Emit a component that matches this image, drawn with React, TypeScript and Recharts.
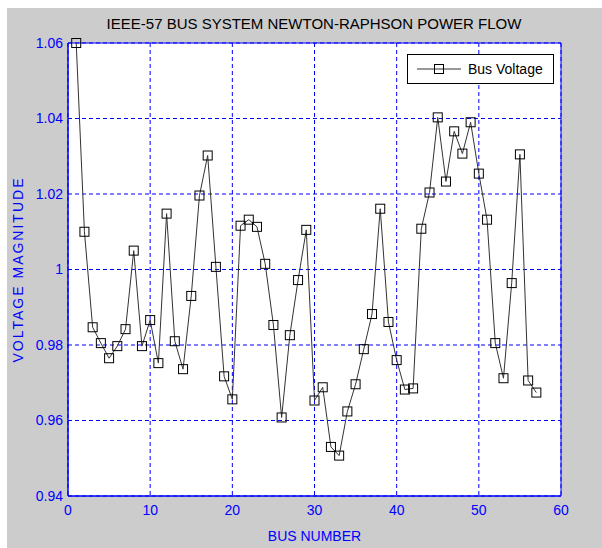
import React from 'react';
import {
  LineChart,
  Line,
  XAxis,
  YAxis,
  CartesianGrid,
  ReferenceArea,
  Label,
} from 'recharts';

const busNumbers = [
  1, 2, 3, 4, 5, 6, 7, 8, 9, 10, 11, 12, 13, 14, 15, 16, 17, 18, 19, 20,
  21, 22, 23, 24, 25, 26, 27, 28, 29, 30, 31, 32, 33, 34, 35, 36, 37, 38, 39, 40,
  41, 42, 43, 44, 45, 46, 47, 48, 49, 50, 51, 52, 53, 54, 55, 56, 57,
];

const busVoltage = [
  1.06, 1.01, 0.9847, 0.9805, 0.9765, 0.9797, 0.9842, 1.005, 0.9797, 0.9866,
  0.9752, 1.0148, 0.981, 0.9736, 0.993, 1.0196, 1.0302, 1.0007, 0.9717, 0.9656,
  1.0116, 1.0132, 1.0113, 1.0015, 0.9853, 0.9608, 0.9826, 0.9972, 1.0105, 0.9653,
  0.9688, 0.953, 0.9507, 0.9624, 0.9696, 0.9789, 0.9882, 1.0161, 0.9861, 0.976,
  0.9682, 0.9685, 1.0108, 1.0204, 1.0403, 1.0233, 1.0366, 1.0307, 1.039, 1.0254,
  1.0132, 0.9805, 0.9712, 0.9964, 1.0305, 0.9706, 0.9674,
];

const xTicks = [0, 10, 20, 30, 40, 50, 60];
const yTicks = [0.94, 0.96, 0.98, 1, 1.02, 1.04, 1.06];

const data = busNumbers.map((bus, i) => ({ bus, voltage: busVoltage[i] }));

const BLUE = '#0000ff';
const FONT = 'Arial, "Liberation Sans", Helvetica, sans-serif';

const SquareDot = (props: any) => {
  const { cx, cy, index } = props;
  if (cx == null || cy == null) return null;
  return (
    <rect
      key={`dot-${index}`}
      x={cx - 4.5}
      y={cy - 4.5}
      width={9}
      height={9}
      fill="none"
      stroke="#000"
      strokeWidth={1}
    />
  );
};

// legend drawn as an overlay so it does not eat plot space
const LegendBox = () => (
  <div
    style={{
      position: 'absolute',
      left: 400,
      top: 46,
      width: 145,
      height: 28,
      border: '1px solid #000',
      background: '#fff',
      display: 'flex',
      alignItems: 'center',
      fontFamily: FONT,
      fontSize: 14,
      color: '#000',
    }}
  >
    <svg width={60} height={28}>
      <line x1={9} y1={14} x2={53} y2={14} stroke="#333" strokeWidth={1} />
      <rect x={26.5} y={9.5} width={9} height={9} fill="none" stroke="#000" />
    </svg>
    <span>Bus Voltage</span>
  </div>
);

export default function App() {
  return (
    <div
      style={{
        position: 'absolute',
        left: 7,
        top: 8,
        width: 595,
        height: 540,
        background: '#cccccc',
        fontFamily: FONT,
      }}
    >
      <div
        style={{
          position: 'absolute',
          left: 0,
          top: 8,
          width: 614,
          textAlign: 'center',
          fontSize: 15,
          lineHeight: '15px',
          color: '#000',
        }}
      >
        IEEE-57 BUS SYSTEM NEWTON-RAPHSON POWER FLOW
      </div>
      <LineChart
        width={595}
        height={540}
        data={data}
        margin={{ top: 35, right: 41, left: 0, bottom: 0 }}
      >
        <CartesianGrid
          fill="#ffffff"
          stroke={BLUE}
          strokeDasharray="4 3"
          strokeWidth={1}
          horizontal={{ stroke: BLUE, strokeDasharray: '4 3' } as any}
          vertical={{ stroke: BLUE, strokeDasharray: '4 3' } as any}
        />
        <XAxis
          type="number"
          dataKey="bus"
          domain={[0, 60]}
          ticks={xTicks}
          height={52}
          tickSize={0}
          tickMargin={9}
          tickLine={false}
          axisLine={{ stroke: BLUE }}
          tick={{ fill: BLUE, fontSize: 14, fontFamily: FONT }}
        >
          <Label
            value="BUS NUMBER"
            position="insideBottom"
            offset={7}
            fill={BLUE}
            fontSize={14}
            fontFamily={FONT}
          />
        </XAxis>
        <YAxis
          type="number"
          domain={[0.94, 1.06]}
          ticks={yTicks}
          width={61}
          tickSize={0}
          tickMargin={5}
          tickLine={false}
          axisLine={{ stroke: BLUE }}
          tickFormatter={(v: number) => (v === 1 ? '1' : v.toFixed(2))}
          tick={{ fill: BLUE, fontSize: 14, fontFamily: FONT }}
        >
          <Label
            value="VOLTAGE MAGNITUDE"
            angle={-90}
            position="insideLeft"
            offset={11}
            fill={BLUE}
            fontSize={14}
            fontFamily={FONT}
            letterSpacing={2}
            style={{ textAnchor: 'middle' }}
          />
        </YAxis>
        <ReferenceArea
          x1={0}
          x2={60}
          y1={0.94}
          y2={1.06}
          fill="none"
          fillOpacity={0}
          stroke={BLUE}
          strokeWidth={1}
        />
        <Line
          type="linear"
          dataKey="voltage"
          name="Bus Voltage"
          stroke="#333"
          strokeWidth={1}
          dot={SquareDot}
          activeDot={false}
          isAnimationActive={false}
        />
      </LineChart>
      <LegendBox />
    </div>
  );
}
